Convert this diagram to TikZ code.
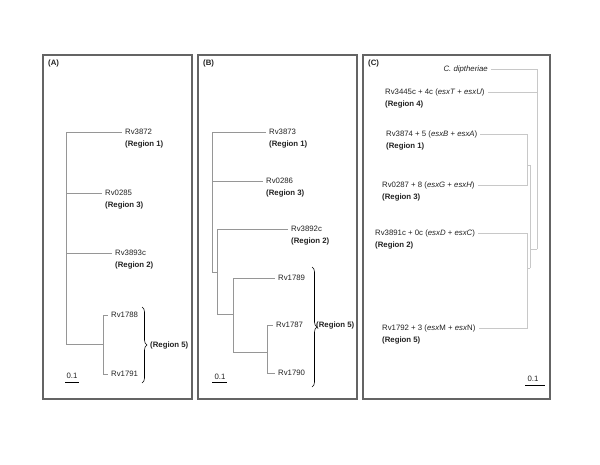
\documentclass[tikz,border=0pt]{standalone}
\usepackage{fontspec}
\setmainfont{Liberation Sans}
\usetikzlibrary{decorations.pathreplacing}
\newcommand\fsz{\fontsize{7.8}{9}\selectfont}
\definecolor{framec}{RGB}{100,100,100}
\definecolor{treeab}{RGB}{150,150,150}
\definecolor{treec}{RGB}{200,200,200}
\definecolor{txt}{RGB}{35,35,35}
\tikzset{
  panel/.style={draw=framec, line width=1.1pt},
  br/.style={draw=treeab, line width=0.5pt},
  brc/.style={draw=treec, line width=0.5pt},
  gap/.style={shorten >=3pt},
  nm/.style={anchor=west, inner sep=0pt, font=\fsz, text=txt},
  nme/.style={anchor=east, inner sep=0pt, font=\fsz, text=txt},
  rg/.style={anchor=west, inner sep=0pt, font=\fsz\bfseries, text=txt},
  brace5/.style={draw=black, line width=0.6pt, decorate, decoration={brace, amplitude=5pt}},
  scalebar/.style={draw=black, line width=0.5pt}
}
\begin{document}
\begin{tikzpicture}[x=1pt,y=-1pt]
\useasboundingbox (0,0) rectangle (600,464);
\fill[white] (0,0) rectangle (600,464);
% frames
\draw[panel] (43,55) rectangle (192,399);
\draw[panel] (198,55) rectangle (357,399);
\draw[panel] (363,55) rectangle (550,399);
\node[rg] (labA) at (48,63) {(A)};
\node[rg] (labB) at (203,63) {(B)};
\node[rg] (labC) at (368,63) {(C)};

% ---------- Panel A ----------
\node[nm] (a1) at (125,132) {Rv3872};
\node[rg] (a1r) at (125,144) {(Region 1)};
\node[nm] (a2) at (105,193) {Rv0285};
\node[rg] (a2r) at (105,205) {(Region 3)};
\node[nm] (a3) at (115,253) {Rv3893c};
\node[rg] (a3r) at (115,265) {(Region 2)};
\node[nm] (a4) at (111,315) {Rv1788};
\node[nm] (a5) at (111,374) {Rv1791};
\coordinate (aR) at (66,344);
\coordinate (aS) at (103,344);
\draw[br,gap] (aR) |- (a1.west);
\draw[br,gap] (aR) |- (a2.west);
\draw[br,gap] (aR) |- (a3.west);
\draw[br] (aR) -- (aS);
\draw[br,gap] (aS) |- (a4.west);
\draw[br,gap] (aS) |- (a5.west);
\coordinate (abT) at (142,307);
\coordinate (abB) at (142,383);
\draw[brace5] (abT) -- (abB);
\node[rg] (a5r) at (150,345) {(Region 5)};
\node[font=\fsz, inner sep=0pt, text=txt] (aSc) at (72,376) {0.1};
\coordinate (aSc1) at (65,382);
\coordinate (aSc2) at (79,382);
\draw[scalebar] (aSc1) -- (aSc2);

% ---------- Panel B ----------
\node[nm] (b1) at (269,132) {Rv3873};
\node[rg] (b1r) at (269,144) {(Region 1)};
\node[nm] (b2) at (266,181) {Rv0286};
\node[rg] (b2r) at (266,193) {(Region 3)};
\node[nm] (b3) at (291,229) {Rv3892c};
\node[rg] (b3r) at (291,241) {(Region 2)};
\node[nm] (b4) at (278,278) {Rv1789};
\node[nm] (b5) at (276,325) {Rv1787};
\node[nm] (b6) at (278,373) {Rv1790};
\coordinate (bR) at (212,272);
\coordinate (bS) at (217,272);
\coordinate (bT) at (233,314);
\coordinate (bU) at (267,352);
\draw[br,gap] (bR) |- (b1.west);
\draw[br,gap] (bR) |- (b2.west);
\draw[br] (bR) -- (bS);
\draw[br,gap] (bS) |- (b3.west);
\draw[br] (bS) |- (bT);
\draw[br,gap] (bT) |- (b4.west);
\draw[br] (bT) |- (bU);
\draw[br,gap] (bU) |- (b5.west);
\draw[br,gap] (bU) |- (b6.west);
\coordinate (bbT) at (312,267);
\coordinate (bbB) at (312,387);
\draw[brace5] (bbT) -- (bbB);
\node[rg] (b5r) at (316,325) {(Region 5)};
\node[font=\fsz, inner sep=0pt, text=txt] (bSc) at (220,377) {0.1};
\coordinate (bSc1) at (212,382);
\coordinate (bSc2) at (227,382);
\draw[scalebar] (bSc1) -- (bSc2);

% ---------- Panel C ----------
\node[nme] (c0) at (488,69) {\itshape C. diptheriae};
\node[nm] (c4) at (385,92) {Rv3445c + 4c (\textit{esxT} + \textit{esxU})};
\node[rg] (c4r) at (385,104) {(Region 4)};
\node[nm] (c1) at (386,134) {Rv3874 + 5 (\textit{esxB} + \textit{esxA})};
\node[rg] (c1r) at (386,146) {(Region 1)};
\node[nm] (c3) at (382,185) {Rv0287 + 8 (\textit{esxG} + \textit{esxH})};
\node[rg] (c3r) at (382,197) {(Region 3)};
\node[nm] (c2) at (375,233) {Rv3891c + 0c (\textit{esxD} + \textit{esxC})};
\node[rg] (c2r) at (375,245) {(Region 2)};
\node[nm] (c5) at (382,328) {Rv1792 + 3 (\textit{esx}M + \textit{esx}N)};
\node[rg] (c5r) at (382,340) {(Region 5)};
\coordinate (cR) at (537,249);
\coordinate (cM) at (530,249);
\coordinate (cMa) at (530,165);
\coordinate (cMb) at (530,268);
\coordinate (cA) at (527,165);
\coordinate (cB) at (527,268);
\draw[brc,gap] (cR) |- (c0.east);
\draw[brc,gap] (cR) |- (c4.east);
\draw[brc] (cR) -- (cM);
\draw[brc] (cMa) -- (cMb);
\draw[brc] (cMa) -- (cA);
\draw[brc] (cMb) -- (cB);
\draw[brc,gap] (cA) |- (c1.east);
\draw[brc,gap] (cA) |- (c3.east);
\draw[brc,gap] (cB) |- (c2.east);
\draw[brc,gap] (cB) |- (c5.east);
\node[font=\fsz, inner sep=0pt, text=txt] (cSc) at (533,379) {0.1};
\coordinate (cSc1) at (525,385);
\coordinate (cSc2) at (545,385);
\draw[scalebar] (cSc1) -- (cSc2);
\end{tikzpicture}
\end{document}
